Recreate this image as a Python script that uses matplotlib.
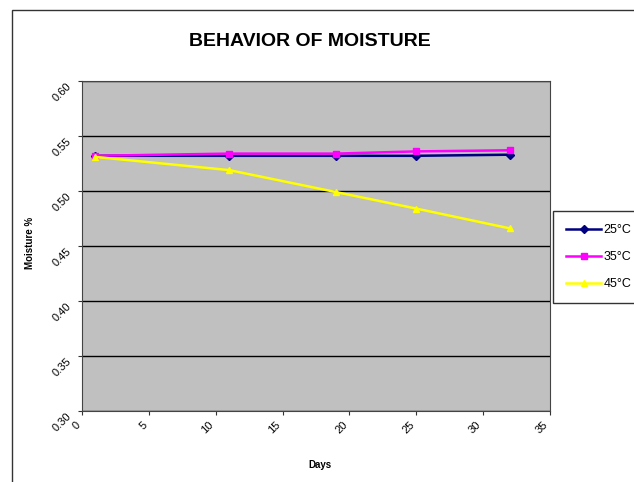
import matplotlib.pyplot as plt
from matplotlib.patches import Rectangle

days = [1, 11, 19, 25, 32]
m25 = [0.532, 0.532, 0.532, 0.532, 0.533]
m35 = [0.532, 0.534, 0.534, 0.536, 0.537]
m45 = [0.531, 0.519, 0.499, 0.484, 0.466]
labels = ['25°C', '35°C', '45°C']

plt.rcParams['font.family'] = ['Liberation Sans', 'DejaVu Sans']

fig = plt.figure(figsize=(6.34, 4.82), dpi=100)
fig.patch.set_facecolor('white')
# chart outer border (cropped on right/bottom)
fig.patches.append(Rectangle((12/634, -0.1), 1.2, 1 - 10/482 + 0.1,
                             transform=fig.transFigure, fill=False,
                             edgecolor='#333333', lw=1))

ax = fig.add_axes([82/634, 1 - 411/482, 468/634, 330/482])
ax.set_facecolor('#C0C0C0')

ax.plot(days, m25, color='#000080', marker='D', markersize=4, lw=1.8, label=labels[0])
ax.plot(days, m35, color='#FF00FF', marker='s', markersize=4, lw=1.8, label=labels[1])
ax.plot(days, m45, color='#FFFF00', marker='^', markersize=5, lw=1.8, label=labels[2])

ax.set_xlim(0, 35)
ax.set_ylim(0.30, 0.60)
ax.set_xticks(range(0, 36, 5))
ax.set_yticks([0.30, 0.35, 0.40, 0.45, 0.50, 0.55, 0.60])
ax.set_yticklabels(['%.2f' % v for v in ax.get_yticks()])
ax.yaxis.grid(True, color='black', lw=1)
ax.set_axisbelow(True)

for lab in ax.get_xticklabels():
    lab.set_rotation(45)
    lab.set_ha('right')
    lab.set_va('top')
for lab in ax.get_yticklabels():
    lab.set_rotation(45)
    lab.set_ha('right')
    lab.set_va('top')
ax.tick_params(labelsize=8, length=3, color='#333333')
for s in ax.spines.values():
    s.set_color('#444444')

fig.text(310/634, 1 - 42/482, 'BEHAVIOR OF MOISTURE', ha='center', va='center',
         fontsize=14, fontweight='bold')
fig.text(30/634, 1 - 243/482, 'Moisture %', rotation=90, ha='center', va='center',
         fontsize=7, fontweight='bold')
fig.text(320/634, 1 - 465/482, 'Days', ha='center', va='center',
         fontsize=7, fontweight='bold')

leg = fig.legend(loc='upper left', bbox_to_anchor=(553/634, 1 - 211/482),
                 fontsize=9, frameon=True, fancybox=False, handlelength=2.8,
                 labelspacing=1.2, borderpad=1.05, handletextpad=0.2,
                 borderaxespad=0)
leg.get_frame().set_edgecolor('black')
leg.get_frame().set_linewidth(1)

fig.savefig('out.png', dpi=100)
